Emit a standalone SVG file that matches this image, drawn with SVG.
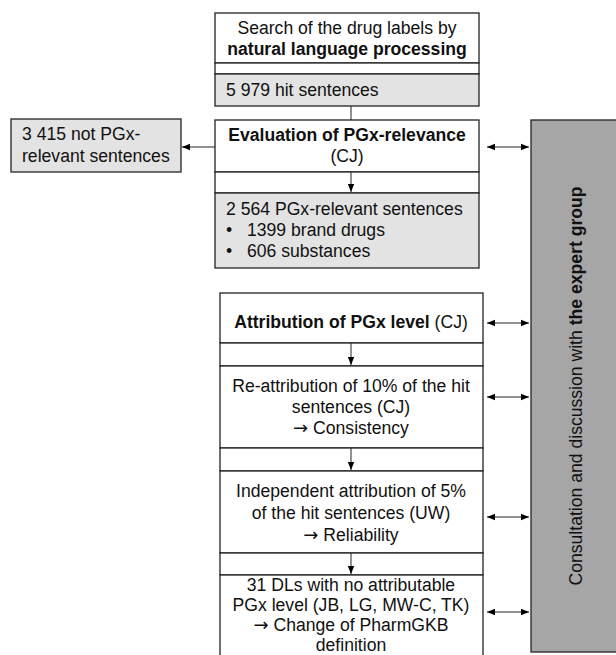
<svg xmlns="http://www.w3.org/2000/svg" width="616" height="655" viewBox="0 0 616 655">
<defs>
<marker id="ah" viewBox="0 0 10 10" refX="10" refY="5" markerWidth="8" markerHeight="8" markerUnits="userSpaceOnUse" orient="auto-start-reverse">
<path d="M0,1 L10,5 L0,9 z" fill="#000"/>
</marker>
</defs>
<style>
.b{stroke:#222;stroke-width:1.3;fill:#fff}
.g{stroke:#222;stroke-width:1.3;fill:#e3e3e3}
.d{stroke:#222;stroke-width:1.3;fill:#a6a6a6}
text{font-family:"Liberation Sans",Arial,sans-serif;font-size:17.6px;fill:#111}
.c{text-anchor:middle}
.bo{font-weight:bold}
.ar{font-family:"DejaVu Sans",sans-serif;font-size:18px}
.l{stroke:#222;stroke-width:1;fill:none}
</style>
<g id="n1">
<rect class="b" x="215" y="13" width="264" height="50"/>
<text class="c" x="347" y="34">Search of the drug labels by</text>
<text class="c bo" x="347" y="55">natural language processing</text>
</g>
<g id="n1gap"><rect class="b" x="215" y="63" width="264" height="11"/></g>
<g id="n2">
<rect class="g" x="215" y="74" width="264" height="32"/>
<text x="226" y="96">5 979 hit sentences</text>
</g>
<g id="n3">
<rect class="b" x="215" y="120" width="264" height="52"/>
<text class="c bo" x="347" y="141">Evaluation of PGx-relevance</text>
<text class="c" x="347" y="162">(CJ)</text>
</g>
<g id="n3gap"><rect class="b" x="215" y="172" width="264" height="21"/></g>
<g id="n4">
<rect class="g" x="215" y="193" width="264" height="75"/>
<text x="226" y="215">2 564 PGx-relevant sentences</text>
<text x="226" y="236">•</text><text x="247" y="236">1399 brand drugs</text>
<text x="226" y="257">•</text><text x="247" y="257">606 substances</text>
</g>
<g id="n5">
<rect class="g" x="11" y="119" width="170" height="53"/>
<text x="22" y="140">3 415 not PGx-</text>
<text x="22" y="162">relevant sentences</text>
</g>
<g id="n6">
<rect class="d" x="531" y="120" width="90" height="532"/>
<text class="c" transform="translate(582,386) rotate(-90)">Consultation and discussion with <tspan class="bo">the expert group</tspan></text>
</g>
<g id="n7">
<rect class="b" x="220" y="293" width="263" height="50"/>
<text class="c" x="351" y="328"><tspan class="bo">Attribution of PGx level</tspan> (CJ)</text>
</g>
<g id="n7gap"><rect class="b" x="220" y="343" width="263" height="23"/></g>
<g id="n8">
<rect class="b" x="220" y="366" width="263" height="82"/>
<text class="c" x="351" y="392">Re-attribution of 10% of the hit</text>
<text class="c" x="351" y="413">sentences (CJ)</text>
<text class="c" x="351" y="434"><tspan class="ar">→</tspan> Consistency</text>
</g>
<g id="n8gap"><rect class="b" x="220" y="448" width="263" height="23"/></g>
<g id="n9">
<rect class="b" x="220" y="471" width="263" height="82"/>
<text class="c" x="351" y="497">Independent attribution of 5%</text>
<text class="c" x="351" y="519">of the hit sentences (UW)</text>
<text class="c" x="351" y="541"><tspan class="ar">→</tspan> Reliability</text>
</g>
<g id="n9gap"><rect class="b" x="220" y="553" width="263" height="22"/></g>
<g id="n10">
<rect class="b" x="220" y="575" width="263" height="90"/>
<text class="c" x="351" y="591">31 DLs with no attributable</text>
<text class="c" x="351" y="611">PGx level (JB, LG, MW-C, TK)</text>
<text class="c" x="351" y="631"><tspan class="ar">→</tspan> Change of PharmGKB</text>
<text class="c" x="351" y="651">definition</text>
</g>
<g id="connectors">
<line class="l" x1="351" y1="106" x2="351" y2="120"/>
<line class="l" x1="351" y1="172" x2="351" y2="192" marker-end="url(#ah)"/>
<line class="l" x1="215" y1="147" x2="182" y2="147" marker-end="url(#ah)"/>
<line class="l" x1="351" y1="343" x2="351" y2="365" marker-end="url(#ah)"/>
<line class="l" x1="351" y1="448" x2="351" y2="470" marker-end="url(#ah)"/>
<line class="l" x1="351" y1="553" x2="351" y2="574" marker-end="url(#ah)"/>
<line class="l" x1="487" y1="147" x2="529" y2="147" marker-start="url(#ah)" marker-end="url(#ah)"/>
<line class="l" x1="487" y1="323" x2="529" y2="323" marker-start="url(#ah)" marker-end="url(#ah)"/>
<line class="l" x1="487" y1="397" x2="529" y2="397" marker-start="url(#ah)" marker-end="url(#ah)"/>
<line class="l" x1="487" y1="517" x2="529" y2="517" marker-start="url(#ah)" marker-end="url(#ah)"/>
<line class="l" x1="487" y1="612" x2="529" y2="612" marker-start="url(#ah)" marker-end="url(#ah)"/>
</g>
</svg>
